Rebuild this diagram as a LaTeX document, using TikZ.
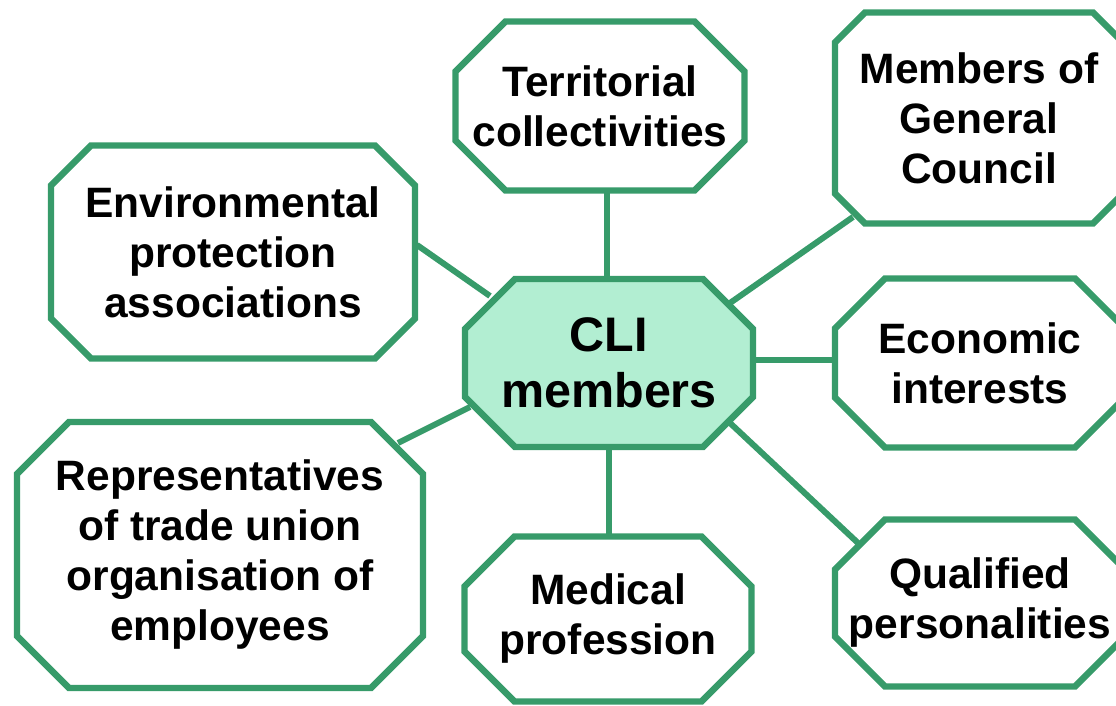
\documentclass[tikz,border=0pt]{standalone}
\usepackage{fontspec}
\setmainfont{Liberation Sans}
\usetikzlibrary{calc}
\definecolor{memberline}{HTML}{379B6A}
\definecolor{memberfill}{HTML}{B2EED2}
\pgfdeclarelayer{links}
\pgfdeclarelayer{boxes}
\pgfsetlayers{links,boxes,main}
\tikzset{%
  every member/.style={
    rectangle,
    inner sep=0pt,
    outer sep=0pt,
    align=center
  },
  member outer/.style={
    font=\fontsize{42.5}{50}\selectfont\bfseries
  },
  member center/.style={
    font=\fontsize{48.5}{56}\selectfont\bfseries
  },
  member border/.style={
    draw=memberline,
    line width=6.4pt,
    line join=miter,
    fill=white
  },
  member link/.style={
    draw=memberline,
    line width=6pt
  },
}
\begin{document}
\begin{tikzpicture}[x=1pt, y=-1pt]
    \useasboundingbox (0,0) rectangle (1116,706);

    %%%%%%%%%%%%%%%%%%%%%%%%%%%%%%%%%%%%%%%%%%%%
    % Nodes (centre first, then member groups)
    %%%%%%%%%%%%%%%%%%%%%%%%%%%%%%%%%%%%%%%%%%%%
    \foreach \n/\p/\w/\h/\c/\s/\f/\t in {
        cli/{609,363}/288/168/50/center/memberfill/{CLI\\members},
        terr/{600,106}/289/169/50/outer/white/{Territorial\\collectivities},
        gen/{979,118}/288/211/30/outer/white/{Members of\\General\\Council},
        env/{233,252}/364/213/40/outer/white/{Environmental\\protection\\associations},
        eco/{980,363}/290/169/50/outer/white/{Economic\\interests},
        rep/{220,555}/406/266/52/outer/white/{Representatives\\of trade union\\organisation of\\employees},
        med/{608,619}/287/165/50/outer/white/{Medical\\profession},
        qual/{980,603}/290/167/50/outer/white/{Qualified\\personalities}}
    {
        \node [every member, member \s, minimum width=\w pt, minimum height=\h pt] (\n) at (\p) {\t};
        % octagon round the node
        \begin{pgfonlayer}{boxes}
            \draw [member border, fill=\f]
                ([xshift=\c pt]\n.north west) -- ([xshift=-\c pt]\n.north east)
                -- ([yshift=-\c pt]\n.north east) -- ([yshift=\c pt]\n.south east)
                -- ([xshift=-\c pt]\n.south east) -- ([xshift=\c pt]\n.south west)
                -- ([yshift=\c pt]\n.south west) -- ([yshift=-\c pt]\n.north west)
                -- cycle;
        \end{pgfonlayer}
    }

    %%%%%%%%%%%%%%%%%%%%%%%%%%%%%%%%%%%%%%%%%%%%
    % Connecting
    %%%%%%%%%%%%%%%%%%%%%%%%%%%%%%%%%%%%%%%%%%%%
    \begin{pgfonlayer}{links}
        \draw [member link] ([xshift=-2pt]cli.north) -- ([xshift=-2pt]cli.north |- terr.south);
        \draw [member link] (cli.south) -- (cli.south |- med.north);
        \draw [member link] ([yshift=3pt]cli.east) -- ([yshift=3pt]cli.east -| eco.west);
        \draw [member link] ($(cli)+(-119,-67)$) -- ($(env)+(184,-7)$);
        \draw [member link] ($(cli)+(121,-60)$) -- ($(gen)+(-126,99)$);
        \draw [member link] ($(cli)+(-139,44)$) -- ($(rep)+(178,-112)$);
        \draw [member link] ($(cli)+(121,60)$) -- ($(qual)+(-122,-60)$);
    \end{pgfonlayer}
\end{tikzpicture}
\end{document}
